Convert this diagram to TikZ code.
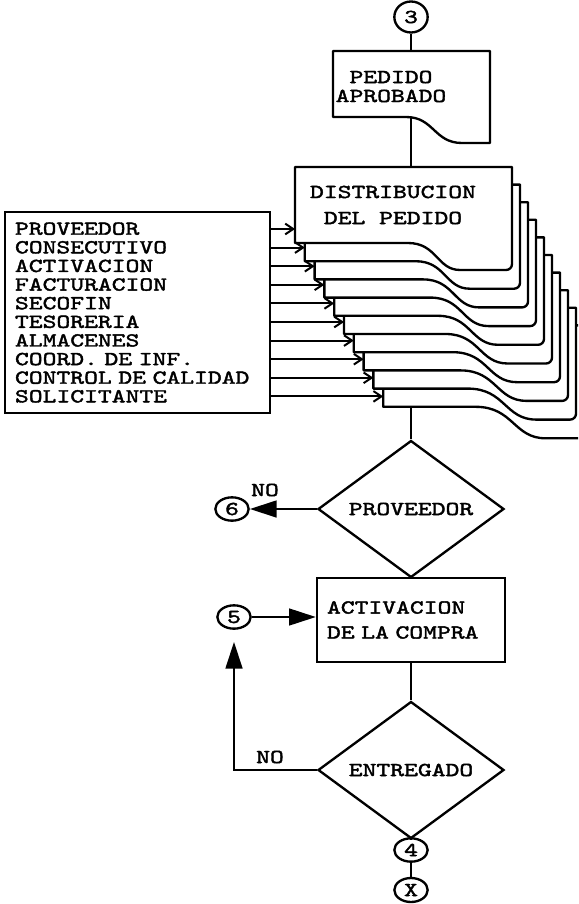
\documentclass[tikz,border=0pt]{standalone}
\usepackage{fontspec}
\newfontfamily\maq{lmmono10-regular.otf}[FakeStretch=1.33,FakeBold=2]
\newcommand\letra[1]{\maq\fontsize{16.9}{#1}\selectfont}
\usetikzlibrary{arrows.meta,shapes.geometric}

\begin{document}
\begin{tikzpicture}[x=0.03cm, y=-0.03cm, line width=2pt,
  every node/.style={font=\letra{15.9pt}},
  caja/.style={draw, rectangle, inner sep=0pt},
  rombo/.style={draw, diamond, inner sep=0pt, minimum width=5.58cm, minimum height=2.79cm},
  conector/.style={draw, ellipse, inner sep=0pt, minimum width=1cm, minimum height=0.7cm},
  hoja/.style={draw, fill=white, line join=round},
  flecha/.style={-{Triangle[length=0.8cm,width=0.5cm]}},
  envio/.style={-{Straight Barb[length=2.4mm,width=3.2mm]}, line width=1.7pt}]
  \useasboundingbox (0,0) rectangle (578,904);
  \clip (0,0) rectangle (578,904);

  %% Conector de entrada
  \node[conector, minimum height=0.93cm] (c3) at (411,17) {3};

  %% Documento: pedido aprobado
  \draw[hoja] (333,51) -- (490,51) -- (490,143) -- (462,143)
    .. controls (434,143) and (434,117) .. (406,117) -- (333,117) -- cycle;
  \node[align=center, font=\letra{16.2pt}] (pedido) at (391,86.5) {PEDIDO\\APROBADO};
  \coordinate (pedN) at (411,51);
  \coordinate (pedS) at (411,117);
  \draw (c3) -- (pedN);

  %% Distribucion del pedido: diez copias, de atras hacia adelante
  \foreach \i in {9,8,...,0} {
    \pgfmathsetmacro\L{295+9.8*\i}
    \pgfmathsetmacro\R{512+8*\i}
    \pgfmathsetmacro\T{167+17.6*\i}
    \pgfmathsetmacro\B{243+18.2*\i}
    \pgfmathsetmacro\BR{270+18.7*\i}
    \pgfmathsetmacro\WS{408+7.5*\i}
    \pgfmathsetmacro\WE{466+9.5*\i}
    \pgfmathsetmacro\Wm{(\WS+\WE)/2}
    \draw[hoja] (\L,\T) -- (\R,\T) [rounded corners=5pt] -- (\R,\BR) -- (\WE,\BR) [sharp corners]
      .. controls (\Wm,\BR) and (\Wm,\B) .. (\WS,\B) -- (\L,\B) -- cycle;
    \coordinate (h\i) at (\L,{229+18.6*\i});
  }
  \node[align=center, font=\letra{22.2pt}] (distrib) at (393,205) {DISTRIBUCION\\DEL PEDIDO};
  \coordinate (distN) at (411,167);
  \coordinate (distS) at (411,407);
  \draw (pedS) -- (distN);

  %% Lista de copias
  \node[caja, minimum width=7.95cm, minimum height=6.03cm, text width=7.35cm, align=left]
    (lista) at (137.5,312.5)
    {PROVEEDOR\\CONSECUTIVO\\ACTIVACION\\FACTURACION\\SECOFIN\\TESORERIA\\ALMACENES\\COORD. DE INF.\\CONTROL DE CALIDAD\\SOLICITANTE};
  \foreach \i in {0,...,9}
    \draw[envio] (lista.east |- h\i) -- (h\i);

  %% Decision: proveedor
  \node[rombo] (prov) at (411,509) {PROVEEDOR};
  \draw (distS) -- (prov.north);
  \node[conector] (c6) at (232,509) {6};
  \draw[flecha] (prov.west) -- (c6);
  \node (no1) at (265,490) {NO};

  %% Activacion de la compra
  \node[caja, minimum width=5.64cm, minimum height=2.52cm, text width=5.04cm, align=left,
    font=\letra{21.3pt}] (activ) at (411,620) {ACTIVACION\\DE LA COMPRA};
  \draw (prov.south) -- (activ.north);
  \node[conector] (c5) at (234,617) {5};
  \draw[flecha] (c5) -- (c5 -| activ.west);

  %% Decision: entregado
  \node[rombo] (entr) at (411,770) {ENTREGADO};
  \draw (activ.south) -- (entr.north);
  \draw[flecha, shorten >=0.36cm] (entr.west) -| (c5);
  \node (no2) at (270,757) {NO};

  %% Salida
  \node[conector] (c4) at (411,850) {4};
  \node[conector, minimum height=0.72cm] (cx) at (411,890) {X};
  \draw (entr.south) -- (c4);
  \draw (c4) -- (cx);
\end{tikzpicture}
\end{document}
